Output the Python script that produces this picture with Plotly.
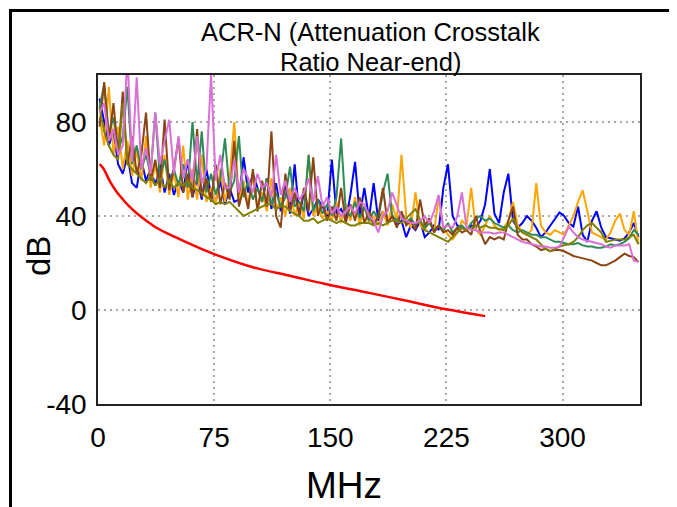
import plotly.graph_objects as go

# ---- data ----
freq = [1, 4, 7, 10, 13, 16, 19, 22, 25, 28, 31, 34, 37, 40, 43, 46, 49, 52, 55, 58,
        61, 64, 67, 70, 73, 76, 79, 82, 85, 88, 91, 94, 97, 100, 103, 106, 109, 112, 115, 118,
        121, 124, 127, 130, 133, 136, 139, 142, 145, 148, 151, 154, 157, 160, 163, 166, 169, 172, 175, 178,
        181, 184, 187, 190, 193, 196, 199, 202, 205, 208, 211, 214, 217, 220, 223, 226, 229, 232, 235, 238,
        241, 244, 247, 250, 253, 256, 259, 262, 265, 268, 271, 274, 277, 280, 283, 286, 289, 292, 295, 298,
        301, 304, 307, 310, 313, 316, 319, 322, 325, 328, 331, 334, 337, 340, 343, 346, 349]

pair_blue = [90, 80, 70, 76, 62, 58, 66, 54, 52, 64,
             55, 60, 53, 62, 50, 58, 49, 55, 50, 64,
             48, 56, 47, 60, 49, 46, 55, 45, 52, 46,
             47, 65, 50, 58, 52, 46, 56, 43, 54, 42,
             54, 41, 62, 40, 50, 40, 43, 47, 44, 40,
             64, 41, 43, 38, 49, 63, 40, 52, 39, 54,
             38, 42, 37, 40, 36, 38, 31, 36, 34, 38,
             31, 33, 36, 34, 52, 62, 40, 36, 35, 34,
             36, 35, 38, 45, 60, 41, 37, 50, 58, 38,
             35, 37, 40, 38, 35, 31, 33, 36, 39, 41.5,
             40, 37, 35.5, 44, 32, 29, 38, 42, 35, 31,
             30.5, 30, 29.5, 30.5, 33, 37, 31]

pair_orange = [82, 70, 95, 66, 78, 60, 72, 57, 68, 55,
               74, 52, 62, 50, 66, 49, 58, 48, 70, 47,
               60, 47, 66, 46, 52, 45, 60, 46, 56, 80,
               46, 55, 44, 58, 43, 50, 42, 56, 42, 48,
               40, 52, 40, 46, 39, 66, 40, 44, 39, 42,
               38, 46, 37, 45, 38, 48, 36, 44, 37, 40,
               36, 42, 36, 45, 38, 66, 40, 35, 50, 36,
               34, 38, 33, 48, 35, 32, 30, 33, 38, 36,
               52, 34, 32, 36, 40, 36, 34, 35, 38, 46,
               36, 33, 32, 34, 54, 36, 33, 32, 34, 33,
               32, 36, 40, 46, 51, 42, 33, 32, 31, 30,
               33, 38, 41, 34, 32, 42, 28]

pair_green = [86, 96, 75, 82, 68, 74, 95, 62, 70, 60,
              66, 58, 84, 56, 64, 54, 60, 53, 62, 52,
              80, 54, 76, 50, 58, 49, 56, 73, 50, 55,
              74, 48, 55, 47, 52, 46, 56, 45, 50, 44,
              48, 61, 44, 46, 42, 66, 42, 47, 41, 45,
              40, 48, 73, 42, 40, 46, 39, 44, 38, 42,
              39, 50, 58, 40, 38, 41, 37, 39, 36, 38,
              35, 37, 34, 36, 34, 37, 33, 35, 36, 34,
              37, 39, 40, 38, 39, 37, 36, 35, 36, 34,
              33, 34, 33, 32, 32, 31, 31, 30, 29, 29,
              28.5, 28, 28, 28.5, 27.5, 27, 27, 26.5, 26.5, 27,
              28, 27.5, 28, 29, 30.5, 34, 32]

pair_brown = [78, 97, 72, 88, 66, 93, 62, 74, 58, 66,
              84, 55, 64, 52, 81, 51, 60, 73, 50, 58,
              48, 77, 48, 56, 46, 62, 45, 54, 47, 72,
              44, 52, 43, 60, 42, 55, 44, 76, 40, 35,
              58, 42, 50, 40, 52, 42, 65, 40, 46, 38,
              44, 38, 52, 37, 45, 38, 48, 37, 42, 36,
              40, 52, 37, 40, 35, 42, 36, 38, 34, 47,
              36, 39, 33, 36, 33, 34, 32, 35, 33, 34,
              32, 40, 33, 28, 31, 30, 31, 30, 38, 44,
              32, 30, 30, 28, 27, 25.5, 26, 25, 25.5, 25.5,
              25, 24, 23, 22.5, 22, 21.5, 21, 20, 19, 19,
              20, 21, 22.5, 24, 23, 22.5, 20.5]

pair_olive = [86, 76, 70, 66, 64, 88, 62, 60, 58, 56,
              54, 57, 53, 56, 52, 55, 52, 54, 53, 55,
              52, 51, 50, 48, 47, 45, 46, 45, 46, 44,
              42, 40, 41, 42, 43, 44, 45, 45, 43, 44,
              44, 42, 41, 40, 38, 38, 39, 37, 38, 39,
              38, 37, 38, 37, 36, 36, 37, 37, 37, 36,
              37, 36, 37, 38, 38, 37, 39, 41, 43, 38,
              34, 33, 32, 31, 30, 29, 31, 33, 35, 34,
              35, 36, 35, 36, 35, 35, 34.5, 34, 36, 39,
              35, 33, 32, 31, 30, 28, 26, 25, 26, 27,
              27.5, 28, 29, 31, 34, 36, 37, 35, 33, 29,
              29.5, 30, 30, 30, 31, 32, 28]

pair_orchid = [84, 88, 72, 77, 66, 70, 108, 63, 99, 60,
               69, 58, 84, 62, 72, 81, 58, 74, 56, 64,
               55, 74, 54, 60, 100, 55, 66, 52, 52, 64,
               50, 60, 56, 50, 58, 52, 54, 48, 66, 49,
               55, 46, 52, 47, 50, 56, 46, 57, 44, 48,
               41, 44, 40, 42, 44, 41, 46, 45, 40, 38,
               33, 40, 42, 50, 44, 39, 38, 37, 37, 38,
               40, 37, 42, 49, 35, 36, 35, 40, 50, 35,
               34, 34, 33, 33, 33, 32.5, 33, 33, 32, 31,
               30, 29, 28.5, 28, 27.5, 27, 27, 26.5, 26.5, 27,
               31, 35.5, 33, 31, 30, 29.5, 29, 28.5, 28, 27,
               26.5, 27.5, 27.5, 27.5, 28, 21, 20.5]

limit_freq = [1, 3.4, 7.8, 12, 16.4, 20, 25, 31.25, 38, 50, 59.5, 75, 100, 125, 150, 175, 200, 225, 250]
limit_db = [62.1, 60.3, 54.6, 50.3, 46.8, 44.2, 41.2, 38.0, 34.9, 31.0, 28.1, 23.8, 18.2, 14.4, 10.6, 7.3, 3.8, 0.3, -2.6]

x_ticks = [0, 75, 150, 225, 300]
x_ticktext = ["0", "75", "150", "225", "300"]
y_ticks = [-40, 0, 40, 80]
y_ticktext = ["-40", "0", "40", "80"]

title_lines = ["ACR-N (Attenuation Crosstalk", "Ratio Near-end)"]
x_title = "MHz"
y_title = "dB"

# ---- figure ----
series = [
    (pair_blue, "#0000FF"),
    (pair_orange, "#FFA500"),
    (pair_green, "#2E8B57"),
    (pair_brown, "#8B4513"),
    (pair_olive, "#808000"),
    (pair_orchid, "#DA70D6"),
]

fig = go.Figure()
for vals, col in series:
    fig.add_trace(go.Scatter(x=freq, y=vals, mode="lines",
                             line=dict(color=col, width=2), hoverinfo="skip"))
fig.add_trace(go.Scatter(x=limit_freq, y=limit_db, mode="lines",
                         line=dict(color="#FF0000", width=2.5, shape="spline"), hoverinfo="skip"))

FONT = "Liberation Sans, Arial, Helvetica, sans-serif"
grid = dict(showgrid=True, gridcolor="#a8a8a8", griddash="2px,4px", gridwidth=2,
            showline=True, mirror=True, linecolor="#222222", linewidth=1.5,
            zeroline=False, ticks="", tickfont=dict(size=28, family=FONT, color="black"))

# the page body adds an 8px offset, so the margins are reduced by 8px
fig.update_layout(
    width=677, height=507,
    margin=dict(l=90, r=45, t=67, b=111, autoexpand=False),
    paper_bgcolor="white", plot_bgcolor="white",
    showlegend=False,
    font=dict(family=FONT, color="black"),
    xaxis=dict(range=[0, 350], tickvals=x_ticks, ticktext=x_ticktext, ticklabelstandoff=8, **grid),
    yaxis=dict(range=[-40, 100], tickvals=y_ticks, ticktext=y_ticktext, ticklabelstandoff=4, **grid),
)

def px_x(p):
    return (p - 98) / 542.0

def px_y(p):
    return (404 - p) / 329.0

annos = [
    dict(text=title_lines[0], x=px_x(370), y=px_y(32), font=dict(size=25.5)),
    dict(text=title_lines[1], x=px_x(370), y=px_y(62), font=dict(size=25.5)),
    dict(text=x_title, x=px_x(344), y=px_y(485), font=dict(size=37)),
    dict(text=y_title, x=px_x(38), y=px_y(256), font=dict(size=33), textangle=-90),
]
for a in annos:
    fig.add_annotation(xref="paper", yref="paper", showarrow=False,
                       xanchor="center", yanchor="middle", borderpad=0, **a)

# outer frame (left and top edges)
fig.add_shape(type="line", xref="paper", yref="paper",
              x0=px_x(10.5), x1=px_x(10.5), y0=px_y(9), y1=px_y(520),
              line=dict(color="black", width=3))
fig.add_shape(type="line", xref="paper", yref="paper",
              x0=px_x(9), x1=px_x(690), y0=px_y(10.5), y1=px_y(10.5),
              line=dict(color="black", width=3))

fig.write_html("out.html")
